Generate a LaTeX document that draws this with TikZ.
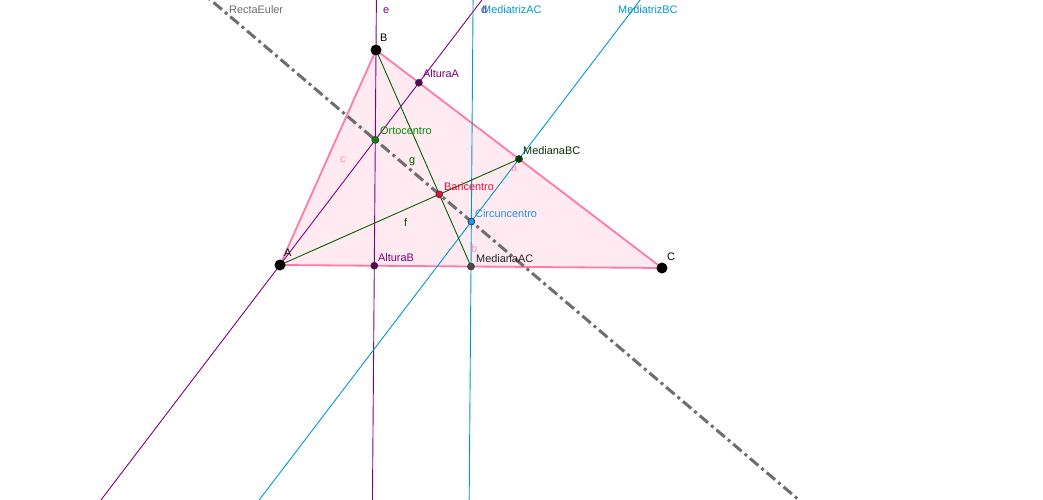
\documentclass[tikz,border=0pt]{standalone}
\usepackage{fontspec}
\setmainfont{Liberation Sans}
\usetikzlibrary{calc}
\definecolor{pinkedge}{RGB}{255,122,165}
\definecolor{pinkfill}{RGB}{255,234,241}
\definecolor{pinklabel}{RGB}{255,140,180}
\definecolor{purp}{RGB}{128,0,128}
\definecolor{lblue}{RGB}{0,153,204}
\definecolor{cblue}{RGB}{30,150,240}
\definecolor{dgreen}{RGB}{0,100,0}
\definecolor{ogreen}{RGB}{0,140,0}
\definecolor{crim}{RGB}{220,20,60}
\definecolor{eulergray}{RGB}{110,110,110}
\tikzset{
  lbl/.style={anchor=base west, inner sep=0pt, font=\fontsize{10.9}{13}\selectfont},
  vtx/.style={circle, fill=black, inner sep=0pt, minimum size=11pt},
  pt/.style={circle, draw=black!80, line width=0.6pt, inner sep=0pt, minimum size=7pt},
  thinline/.style={line width=0.9pt},
}
\begin{document}
\begin{tikzpicture}[x=1pt,y=-1pt]
\useasboundingbox (0,0) rectangle (1043,500);
\fill[white] (0,0) rectangle (1043,500);
\coordinate (A) at (280,265);
\coordinate (B) at (376,50);
\coordinate (C) at (662,268);
\coordinate (MBC) at (519,159);
\coordinate (MAC) at (471,266.5);
\coordinate (G) at (439.33,194.33);
\coordinate (O) at (471.35,221.54);
\coordinate (H) at (375.3,139.9);
\coordinate (HA) at (418.9,82.7);
\coordinate (HB) at (374.3,265.7);
\begin{scope}
\clip (0,0) rectangle (1043,500);
% triangle
\fill[pinkfill] (A) -- (B) -- (C) -- cycle;
\draw[pinkedge, line width=1.8pt, line join=round] (A) -- (B) -- (C) -- cycle;
% altitudes
\draw[purp, thinline] ($(B)!-5!(HB)$) -- ($(B)!5!(HB)$);
\draw[purp, thinline] ($(A)!-5!(HA)$) -- ($(A)!5!(HA)$);
% perpendicular bisectors
\draw[lblue, thinline] ($(MAC)!-20!(O)$) -- ($(MAC)!20!(O)$);
\draw[lblue, thinline] ($(MBC)!-10!(O)$) -- ($(MBC)!10!(O)$);
% medians
\draw[dgreen, thinline] (B) -- (MAC);
\draw[dgreen, thinline] (A) -- (MBC);
% Euler line
\draw[eulergray, line width=3pt, dash pattern=on 11pt off 4pt on 3pt off 4pt] ($(H)!-5!(O)$) -- ($(H)!5!(O)$);
\end{scope}
% points
\node[vtx] (nA) at (A) {};
\node[vtx] (nB) at (B) {};
\node[vtx] (nC) at (C) {};
\node[pt, fill=purp!70!black] (nHA) at (HA) {};
\node[pt, fill=purp!70!black] (nHB) at (HB) {};
\node[pt, fill=ogreen] (nH) at (H) {};
\node[pt, fill=crim] (nG) at (G) {};
\node[pt, fill=cblue] (nO) at (O) {};
\node[pt, fill=dgreen!60!black] (nMBC) at (MBC) {};
\node[pt, fill=black!70] (nMAC) at (MAC) {};
% labels
\node[lbl, text=eulergray] (tEuler) at (229,14) {RectaEuler};
\node[lbl, text=purp] (te) at (383,14) {e};
\node[lbl, text=purp] (td) at (481,14) {d};
\node[lbl, text=lblue] (tMAC) at (482,14) {MediatrizAC};
\node[lbl, text=lblue] (tMBC) at (618,14) {MediatrizBC};
\node[lbl] (tB) at (380,42) {B};
\node[lbl] (tA) at (284,256) {A};
\node[lbl] (tC) at (667,260) {C};
\node[lbl, text=purp] (tHA) at (423,78) {AlturaA};
\node[lbl, text=ogreen] (tH) at (380,135) {Ortocentro};
\node[lbl, text=dgreen] (tg) at (409,163) {g};
\node[lbl, text=pinklabel] (tc) at (340,162) {c};
\node[lbl, text=black!80!green] (tMedBC) at (523,154) {MedianaBC};
\node[lbl, text=pinklabel] (ta) at (511,171) {a};
\node[lbl, text=crim] (tG) at (444,190) {Baricentro};
\node[lbl, text=cblue] (tO) at (475,217) {Circuncentro};
\node[lbl, text=dgreen] (tf) at (404,226) {f};
\node[lbl, text=pinklabel] (tb) at (471,252) {b};
\node[lbl, text=purp] (tHB) at (378,261) {AlturaB};
\node[lbl, text=black!85] (tMedAC) at (476,262) {MedianaAC};
\end{tikzpicture}
\end{document}
